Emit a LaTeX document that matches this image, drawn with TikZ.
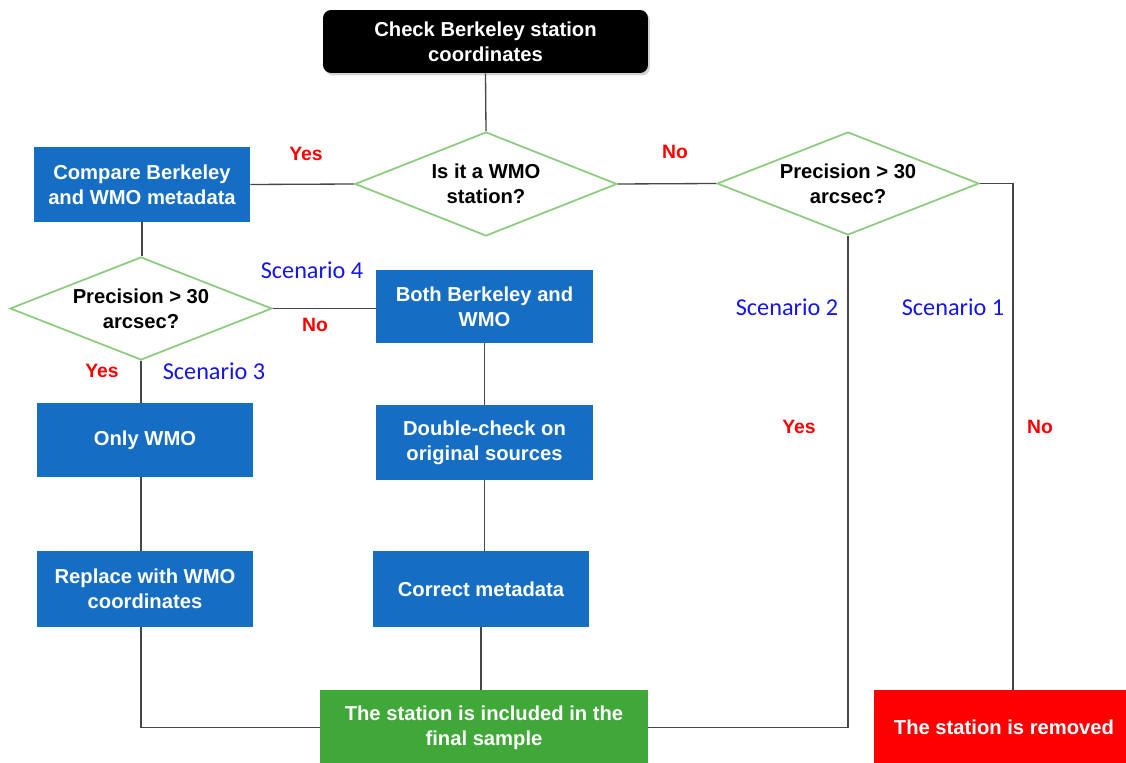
\documentclass[tikz,border=0pt]{standalone}
\usepackage{fontspec}
\setmainfont{Liberation Sans}
\newfontfamily\carl{Carlito}
\usetikzlibrary{shapes.geometric,shadows}
\definecolor{boxblue}{RGB}{22,110,196}
\definecolor{boxgreen}{RGB}{64,168,56}
\definecolor{boxred}{RGB}{255,0,0}
\definecolor{dgreen}{RGB}{140,205,125}
\definecolor{lineg}{RGB}{70,70,70}
\definecolor{scen}{RGB}{20,20,235}
\begin{document}
\begin{tikzpicture}[x=0.02cm,y=-0.02cm,
  every node/.style={font=\fontsize{11.5}{14.2}\selectfont\bfseries, align=center},
  bbox/.style={rectangle, fill=boxblue, text=white, inner sep=0pt},
  dec/.style={diamond, draw=dgreen, line width=1pt, fill=white, inner sep=0pt, aspect=2.52},
  conn/.style={draw=lineg, line width=0.75pt},
  yn/.style={text=red, font=\fontsize{11}{13}\selectfont\bfseries},
  sc/.style={text=scen, font=\fontsize{13.8}{16}\selectfont\carl}
]
\useasboundingbox (0,0) rectangle (1126,763);

% nodes
\node[rectangle, rounded corners=0.16cm, fill=black, text=white, minimum width=6.5cm, minimum height=1.26cm,
  drop shadow={opacity=0.35, shadow xshift=0.04cm, shadow yshift=-0.05cm}] (start) at (485.5,41.5)
  {Check Berkeley station\\coordinates};
\node[dec, minimum width=5.24cm, minimum height=2.08cm] (wmo) at (486,184) {};
\node (wmot) at (wmo) {Is it a WMO\\station?};
\node[bbox, minimum width=4.32cm, minimum height=1.5cm] (compare) at (142,184.5) {Compare Berkeley\\and WMO metadata};
\node[dec, minimum width=5.24cm, minimum height=2.06cm] (prec1) at (848,183.5) {};
\node (prec1t) at (prec1) {Precision > 30\\arcsec?};
\node[dec, minimum width=5.24cm, minimum height=2.06cm] (prec2) at (141,308.5) {};
\node (prec2t) at (prec2) {Precision > 30\\arcsec?};
\node[bbox, minimum width=4.34cm, minimum height=1.46cm] (both) at (484.5,306.5) {Both Berkeley and\\WMO};
\node[bbox, minimum width=4.32cm, minimum height=1.48cm] (only) at (145,440) {Only WMO};
\node[bbox, minimum width=4.32cm, minimum height=1.52cm] (replace) at (145,589) {Replace with WMO\\coordinates};
\node[bbox, minimum width=4.34cm, minimum height=1.5cm] (double) at (484.5,442.5) {Double-check on\\original sources};
\node[bbox, minimum width=4.32cm, minimum height=1.52cm] (correct) at (481,589) {Correct metadata};
\node[rectangle, fill=boxgreen, text=white, inner sep=0pt, minimum width=6.56cm, minimum height=1.5cm] (incl) at (484,727.5)
  {The station is included in the\\final sample};
\node[rectangle, fill=boxred, text=white, inner sep=0pt, minimum width=5.2cm, minimum height=1.5cm] (removed) at (1004,727.5)
  {The station is removed};

% labels
\node[yn] (yes1) at (306,154) {Yes};
\node[yn] (no1) at (675,152) {No};
\node[sc] (sc2) at (787,307) {Scenario 2};
\node[sc] (sc1) at (953,307) {Scenario 1};
\node[yn] (yes2) at (799,427) {Yes};
\node[yn] (no2) at (1040,427) {No};
\node[sc] (sc4) at (312,270) {Scenario 4};
\node[yn] (no3) at (315,325) {No};
\node[yn] (yes3) at (102,371) {Yes};
\node[sc] (sc3) at (214,371) {Scenario 3};

% connectors
\draw[conn] (start.south) -- (wmo.north);
\draw[conn] (wmo.west) -- (compare.east);
\draw[conn] (wmo.east) -- (prec1.west);
\draw[conn] (prec1.east) -| ([xshift=0.18cm]removed.north);
\draw[conn] (prec1.south) |- (incl.east);
\draw[conn] (compare.south) -- (compare.south |- prec2.north);
\draw[conn] (prec2.east) -- (prec2.east -| both.west);
\draw[conn] (prec2.south) -- (prec2.south |- only.north);
\draw[conn] (prec2.south |- only.south) -- (prec2.south |- replace.north);
\draw[conn] (prec2.south |- replace.south) |- (incl.west);
\draw[conn] (both.south) -- (both.south |- double.north);
\draw[conn] (double.south) -- (double.south |- correct.north);
\draw[conn] (correct.south) -- (correct.south |- incl.north);
\end{tikzpicture}
\end{document}
